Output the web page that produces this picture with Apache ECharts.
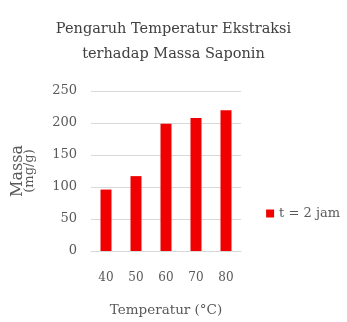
<!DOCTYPE html>
<html><head><meta charset="utf-8">
<script src="https://cdn.jsdelivr.net/npm/echarts@6/dist/echarts.min.js"></script>
<style>html,body{margin:0;padding:0;background:#fff}#c{width:347px;height:322px}</style>
</head><body><div id="c"></div>
<script>
const categories = ['40', '50', '60', '70', '80'];
const values = [96, 117, 199, 208, 220];
const seriesName = 't = 2 jam';
const titleText = 'Pengaruh Temperatur Ekstraksi\nterhadap Massa Saponin';
const xName = 'Temperatur (°C)';
const yNameTop = 'Massa';
const yNameBottom = '(mg/g)';

const serif = 'DejaVu Serif';
const chart = echarts.init(document.getElementById('c'));
chart.setOption({
  backgroundColor: '#fff',
  animation: false,
  title: {
    text: titleText, left: 'center', top: 12,
    textStyle: { fontFamily: serif, fontSize: 14.5, fontWeight: 'normal', color: '#404040', lineHeight: 25, align: 'center' }
  },
  legend: {
    right: 2, top: 202, orient: 'vertical',
    itemWidth: 8, itemHeight: 8, itemGap: 4,
    icon: 'rect',
    textStyle: { fontFamily: serif, fontSize: 13, color: '#595959' },
    data: [seriesName]
  },
  grid: { left: 91, right: 106, top: 91, bottom: 65 },
  xAxis: {
    type: 'category', data: categories,
    name: xName, nameLocation: 'middle', nameGap: 52,
    nameTextStyle: { fontFamily: serif, fontSize: 13.5, color: '#595959' },
    axisTick: { show: false },
    axisLine: { lineStyle: { color: '#d9d9d9' } },
    axisLabel: { margin: 21, fontFamily: serif, fontSize: 12, color: '#595959' }
  },
  yAxis: {
    type: 'value', min: 0, max: 250, interval: 50,
    name: '{a|' + yNameTop + '}\n{b|' + yNameBottom + '}',
    nameLocation: 'middle', nameGap: 55, nameRotate: 90,
    nameTextStyle: {
      fontFamily: serif, color: '#595959', align: 'center',
      rich: {
        a: { fontFamily: serif, fontSize: 16, color: '#595959', lineHeight: 13 },
        b: { fontFamily: serif, fontSize: 13, color: '#595959', lineHeight: 12 }
      }
    },
    axisLine: { show: false }, axisTick: { show: false },
    splitLine: { lineStyle: { color: '#d9d9d9' } },
    axisLabel: { margin: 14, fontFamily: serif, fontSize: 13, color: '#595959' }
  },
  series: [{
    name: seriesName, type: 'bar', data: values, barWidth: 11,
    itemStyle: { color: '#f00000' }
  }]
});
</script></body></html>
